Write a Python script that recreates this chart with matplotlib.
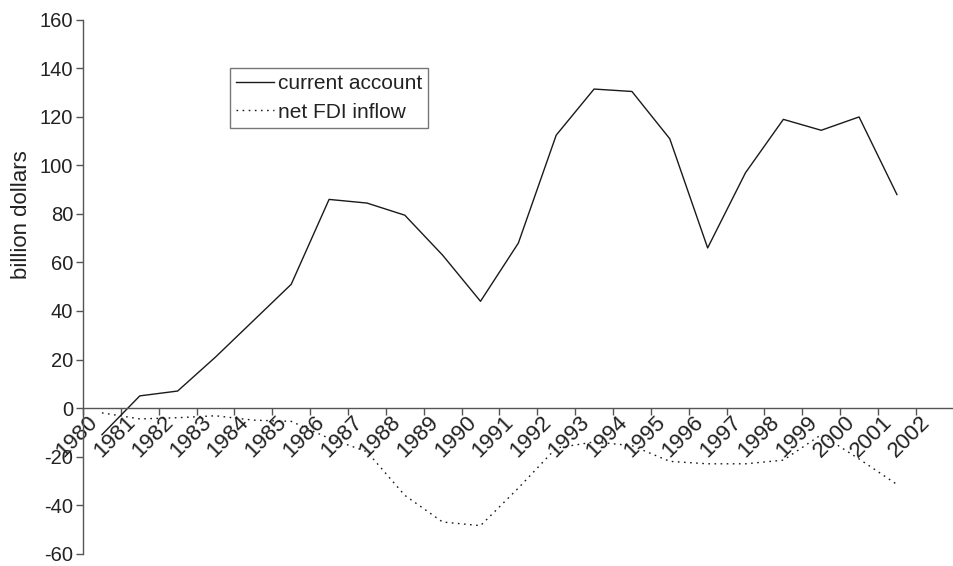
import matplotlib
matplotlib.use("Agg")
import matplotlib.pyplot as plt
import matplotlib.transforms as mtransforms

plt.rcParams['font.family'] = ['Liberation Sans', 'DejaVu Sans']
plt.rcParams['axes.unicode_minus'] = False

years = [str(y) for y in range(1980, 2003)]
current_account = [-11, 5, 7, 21, 36, 51, 86, 84.5, 79.5, 63, 44, 68,
                   112.5, 131.5, 130.5, 111, 66, 97, 119, 114.5, 120, 88]
net_fdi = [-2, -4.5, -4, -3.2, -5, -5.5, -12.5, -18, -36, -47, -48.5, -33,
           -16.5, -14, -15.5, -22, -23, -23, -21.5, -11, -21, -31.5]

fig = plt.figure(figsize=(9.54, 5.66), dpi=100)
ax = fig.add_axes([0.087, 0.022, 0.9127, 0.9428])

xs = [i + 0.5 for i in range(len(current_account))]
ax.plot(xs, current_account, color='#1a1a1a', lw=1.0, label='current account')
ax.plot(xs, net_fdi, color='#1a1a1a', lw=1.0, linestyle=(0, (1.2, 3.2)), label='net FDI inflow')

ax.set_xlim(0, 23)
ax.set_ylim(-60, 160)
ax.set_yticks(range(-60, 161, 20))
ax.set_xticks(range(0, 24))
ax.set_xticklabels(years + [''])

for s in ['top', 'right']:
    ax.spines[s].set_visible(False)
ax.spines['bottom'].set_position(('data', 0))
for s in ['left', 'bottom']:
    ax.spines[s].set_color('#555555')
    ax.spines[s].set_linewidth(1.0)

ax.tick_params(axis='y', direction='out', length=5, width=1.0, color='#555555',
               labelsize=14.5, labelcolor='#222222', pad=2)
ax.tick_params(axis='x', direction='out', length=5, width=1.0, color='#555555',
               labelsize=16, labelcolor='#222222', pad=0)

offset = mtransforms.ScaledTranslation(4 / 100, 3 / 100, fig.dpi_scale_trans)
for lbl in ax.get_xticklabels():
    lbl.set_rotation(45)
    lbl.set_ha('right')
    lbl.set_va('top')
    lbl.set_rotation_mode('anchor')
    lbl.set_transform(lbl.get_transform() + offset)

ax.set_ylabel('billion dollars', fontsize=16, color='#222222')
ax.yaxis.set_label_coords(-0.058, 0.635)

leg = ax.legend(loc='upper left', bbox_to_anchor=(230 / 954, 1 - 68 / 566),
                bbox_transform=fig.transFigure, fontsize=15, frameon=True,
                fancybox=False, handlelength=1.8, handletextpad=0.2,
                borderpad=0.3, labelspacing=0.45, borderaxespad=0)
leg.get_frame().set_edgecolor('#555555')
leg.get_frame().set_linewidth(1.0)
for t in leg.get_texts():
    t.set_color('#222222')

fig.savefig('out.png', dpi=100)
